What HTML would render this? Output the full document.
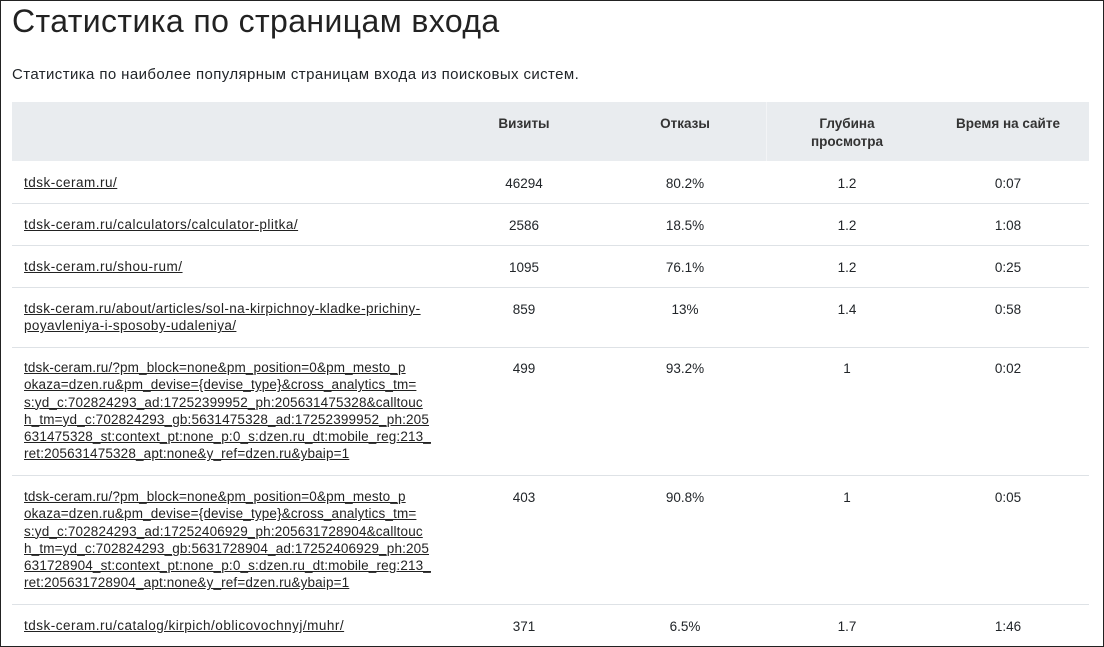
<!DOCTYPE html>
<html><head><meta charset="utf-8"><style>
body{margin:0;width:1104px;height:647px;overflow:hidden;background:#fff;font-family:"Liberation Sans","DejaVu Sans",sans-serif;color:#212529;position:relative}
.frame{position:absolute;left:0;top:0;width:1102px;height:645px;border:1px solid #222;}
.t{position:absolute;white-space:nowrap}
h1{position:absolute;left:12px;top:3px;margin:0;font-size:32px;font-weight:normal;color:#222;letter-spacing:0.4px}
.sub{left:12px;top:66px;font-size:15px;letter-spacing:0.4px}
.hdr{position:absolute;left:12px;top:102px;width:1077px;height:59px;background:#e9ecef}
.hl{position:absolute;font-weight:bold;font-size:13.5px;text-align:center;color:#333;line-height:18px}
.line{position:absolute;left:12px;width:1077px;height:1px;background:#dee2e6}
.a{position:absolute;left:24px;font-size:13.5px;line-height:17.3px;text-decoration:underline;color:#222;white-space:nowrap;letter-spacing:0.15px}
.s{letter-spacing:0.5px}
.c{position:absolute;font-size:13.5px;text-align:center;width:160px;line-height:17px}
</style></head><body>
<div class="frame"></div>
<h1>Статистика по страницам входа</h1>
<div class="t sub">Статистика по наиболее популярным страницам входа из поисковых систем.</div>
<div class="hdr"></div>
<div style="position:absolute;left:766px;top:102px;width:1px;height:59px;background:#f3f4f6"></div>
<div class="hl" style="left:444px;width:160px;top:115px">Визиты</div>
<div class="hl" style="left:605px;width:160px;top:115px">Отказы</div>
<div class="hl" style="left:767px;width:160px;top:115px">Глубина<br>просмотра</div>
<div class="hl" style="left:928px;width:160px;top:115px">Время на сайте</div>

<div class="line" style="top:203px"></div>
<div class="line" style="top:245px"></div>
<div class="line" style="top:287px"></div>
<div class="line" style="top:347px"></div>
<div class="line" style="top:475px"></div>
<div class="line" style="top:604px"></div>

<div class="a s" style="top:174px">tdsk-ceram.ru/</div>
<div class="a s" style="top:216px">tdsk-ceram.ru/calculators/calculator-plitka/</div>
<div class="a s" style="top:258px">tdsk-ceram.ru/shou-rum/</div>
<div class="a s" style="top:300px;letter-spacing:0.4px">tdsk-ceram.ru/about/articles/sol-na-kirpichnoy-kladke-prichiny-<br>poyavleniya-i-sposoby-udaleniya/</div>
<div class="a" style="top:359px">tdsk-ceram.ru/?pm_block=none&amp;pm_position=0&amp;pm_mesto_p<br>okaza=dzen.ru&amp;pm_devise={devise_type}&amp;cross_analytics_tm=<br>s:yd_c:702824293_ad:17252399952_ph:205631475328&amp;calltouc<br>h_tm=yd_c:702824293_gb:5631475328_ad:17252399952_ph:205<br>631475328_st:context_pt:none_p:0_s:dzen.ru_dt:mobile_reg:213_<br>ret:205631475328_apt:none&amp;y_ref=dzen.ru&amp;ybaip=1</div>
<div class="a" style="top:488px">tdsk-ceram.ru/?pm_block=none&amp;pm_position=0&amp;pm_mesto_p<br>okaza=dzen.ru&amp;pm_devise={devise_type}&amp;cross_analytics_tm=<br>s:yd_c:702824293_ad:17252406929_ph:205631728904&amp;calltouc<br>h_tm=yd_c:702824293_gb:5631728904_ad:17252406929_ph:205<br>631728904_st:context_pt:none_p:0_s:dzen.ru_dt:mobile_reg:213_<br>ret:205631728904_apt:none&amp;y_ref=dzen.ru&amp;ybaip=1</div>
<div class="a s" style="top:617px">tdsk-ceram.ru/catalog/kirpich/oblicovochnyj/muhr/</div>

<div class="c" style="left:444px;top:175px">46294</div><div class="c" style="left:605px;top:175px">80.2%</div><div class="c" style="left:767px;top:175px">1.2</div><div class="c" style="left:928px;top:175px">0:07</div>
<div class="c" style="left:444px;top:217px">2586</div><div class="c" style="left:605px;top:217px">18.5%</div><div class="c" style="left:767px;top:217px">1.2</div><div class="c" style="left:928px;top:217px">1:08</div>
<div class="c" style="left:444px;top:259px">1095</div><div class="c" style="left:605px;top:259px">76.1%</div><div class="c" style="left:767px;top:259px">1.2</div><div class="c" style="left:928px;top:259px">0:25</div>
<div class="c" style="left:444px;top:301px">859</div><div class="c" style="left:605px;top:301px">13%</div><div class="c" style="left:767px;top:301px">1.4</div><div class="c" style="left:928px;top:301px">0:58</div>
<div class="c" style="left:444px;top:360px">499</div><div class="c" style="left:605px;top:360px">93.2%</div><div class="c" style="left:767px;top:360px">1</div><div class="c" style="left:928px;top:360px">0:02</div>
<div class="c" style="left:444px;top:489px">403</div><div class="c" style="left:605px;top:489px">90.8%</div><div class="c" style="left:767px;top:489px">1</div><div class="c" style="left:928px;top:489px">0:05</div>
<div class="c" style="left:444px;top:618px">371</div><div class="c" style="left:605px;top:618px">6.5%</div><div class="c" style="left:767px;top:618px">1.7</div><div class="c" style="left:928px;top:618px">1:46</div>
</body></html>
